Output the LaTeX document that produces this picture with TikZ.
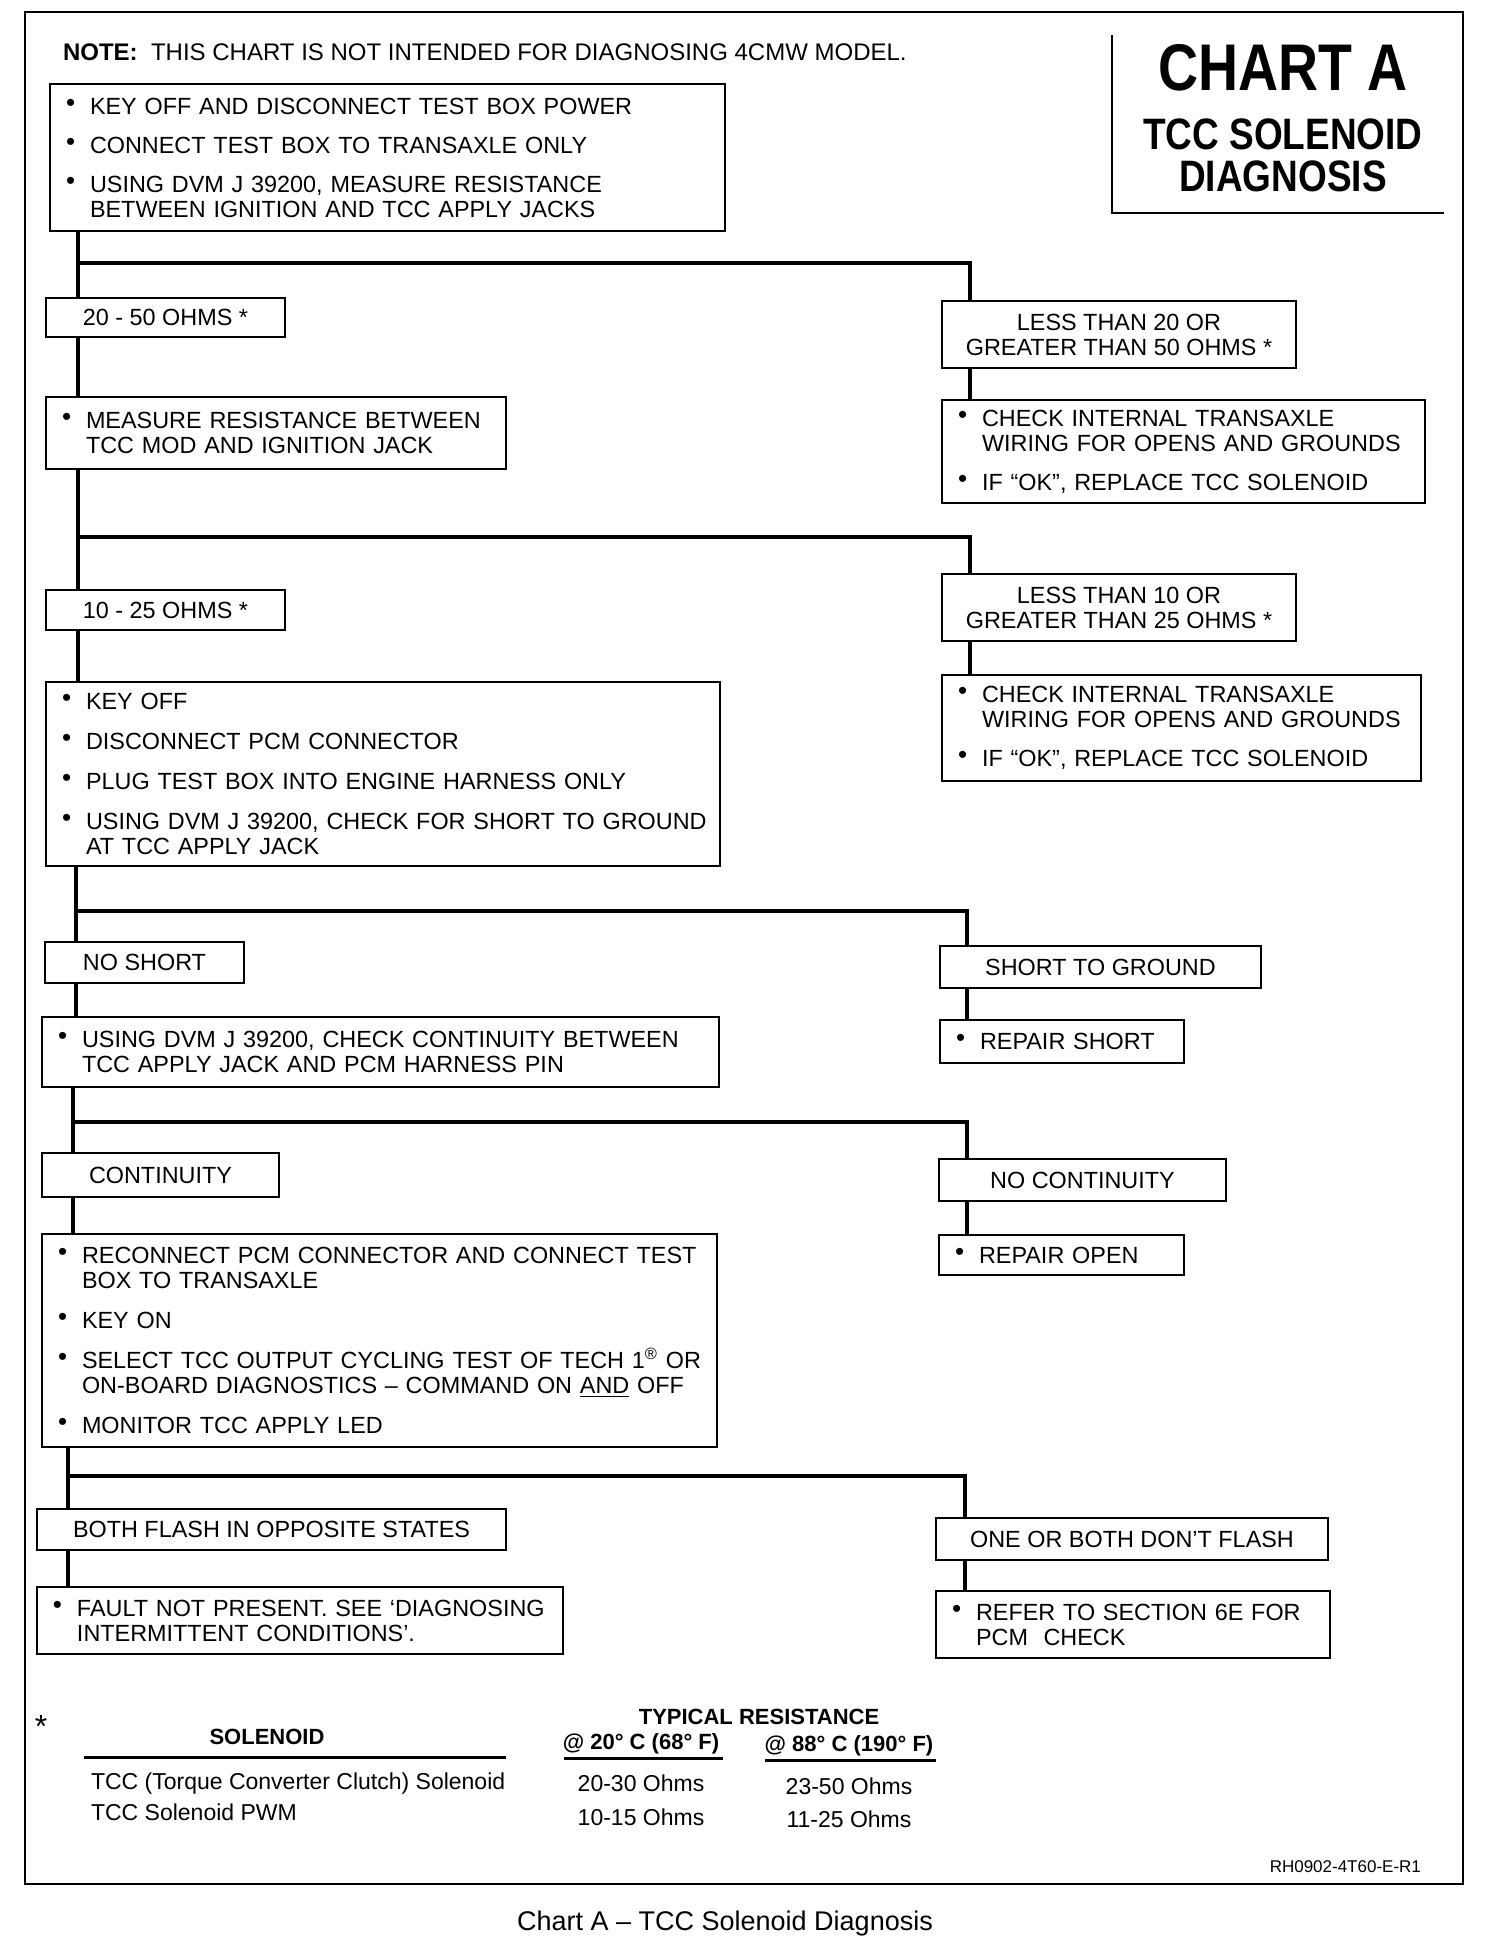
\documentclass[tikz,border=0pt]{standalone}
\usepackage{fontspec}
\setmainfont{Liberation Sans}
\newfontfamily\condfont{Liberation Sans}[FakeStretch=0.84]

% bullet lines, never broken
\newcommand\bl[1]{\mbox{\makebox[12pt][l]{\raisebox{1.5pt}{\fontsize{13}{13}\selectfont\textbullet}}#1}}
\newcommand\cl[1]{\mbox{\hspace*{12pt}#1}}

\tikzset{
  stepbox/.style={draw, line width=1.4pt, rectangle, inner xsep=8pt, inner ysep=0pt,
    font=\fontsize{11.7}{12.5}\selectfont},
  listbox/.style={stepbox, align=left},
  tagbox/.style={stepbox, align=center},
  link/.style={line width=2.2pt},
  frame/.style={line width=1.2pt},
  titletext/.style={inner sep=0pt, font=\condfont\bfseries\fontsize{22}{24}\selectfont},
  tabhead/.style={anchor=base, font=\bfseries\fontsize{11}{13}\selectfont},
  tabcell/.style={anchor=base, font=\fontsize{11.5}{13}\selectfont},
}

\begin{document}
\begin{tikzpicture}[x=0.5pt, y=-0.5pt]
  \useasboundingbox (0,0) rectangle (1504,1944);
  \draw[frame] (25,12) rectangle (1463,1884);

  % === title ===
  \node[anchor=base west, font=\fontsize{12}{14}\selectfont] (note) at (56,60)
    {\textbf{NOTE:}\ \ THIS CHART IS NOT INTENDED FOR DIAGNOSING 4CMW MODEL.};
  \draw[frame] (1112,35) -- (1112,213) -- (1444,213);
  \node[titletext, font=\condfont\bfseries\fontsize{33}{36}\selectfont] (charta) at (1283,68) {CHART A};
  \node[titletext, anchor=base] (tccsol) at (1283,149) {TCC SOLENOID};
  \node[titletext, anchor=base] (diag) at (1283,191) {DIAGNOSIS};

  % === boxes ===
  \node[listbox, text width=321.5pt, minimum height=73.5pt] (setup) at (387.5,157.5)
    {\bl{KEY OFF AND DISCONNECT TEST BOX POWER}\\[7pt]
     \bl{CONNECT TEST BOX TO TRANSAXLE ONLY}\\[7pt]
     \bl{USING DVM J 39200, MEASURE RESISTANCE}\\
     \cl{BETWEEN IGNITION AND TCC APPLY JACKS}};

  \node[tagbox, minimum width=119.5pt, minimum height=19.5pt] (ohmA) at (165.5,317.5) {20 - 50 OHMS *};
  \node[tagbox, minimum width=177pt, minimum height=33.5pt] (outA) at (1119,334.5)
    {LESS THAN 20 OR\\GREATER THAN 50 OHMS *};
  \node[listbox, text width=214pt, minimum height=36pt] (meas) at (276,433)
    {\bl{MEASURE RESISTANCE BETWEEN}\\
     \cl{TCC MOD AND IGNITION JACK}};
  \node[listbox, text width=225.5pt, minimum height=51.5pt] (chkA) at (1183.5,451.5)
    {\bl{CHECK INTERNAL TRANSAXLE}\\
     \cl{WIRING FOR OPENS AND GROUNDS}\\[7pt]
     \bl{IF “OK”, REPLACE TCC SOLENOID}};

  \node[tagbox, minimum width=119.5pt, minimum height=20pt] (ohmB) at (165.5,610) {10 - 25 OHMS *};
  \node[tagbox, minimum width=177pt, minimum height=33.5pt] (outB) at (1119,607.5)
    {LESS THAN 10 OR\\GREATER THAN 25 OHMS *};
  \node[listbox, text width=223.5pt, minimum height=53pt] (chkB) at (1181.5,728)
    {\bl{CHECK INTERNAL TRANSAXLE}\\
     \cl{WIRING FOR OPENS AND GROUNDS}\\[7pt]
     \bl{IF “OK”, REPLACE TCC SOLENOID}};
  \node[listbox, text width=321pt, minimum height=92pt] (keyoff) at (383,774)
    {\bl{KEY OFF}\\[7.5pt]
     \bl{DISCONNECT PCM CONNECTOR}\\[7.5pt]
     \bl{PLUG TEST BOX INTO ENGINE HARNESS ONLY}\\[7.5pt]
     \bl{USING DVM J 39200, CHECK FOR SHORT TO GROUND}\\
     \cl{AT TCC APPLY JACK}};

  \node[tagbox, minimum width=99.5pt, minimum height=20.5pt] (noshort) at (144.5,962.5) {NO SHORT};
  \node[tagbox, minimum width=160.5pt, minimum height=21pt] (shortgnd) at (1100.5,967) {SHORT TO GROUND};
  \node[listbox, text width=106pt, minimum height=21.5pt] (repshort) at (1062,1041.5)
    {\bl{REPAIR SHORT}};
  \node[listbox, text width=322.5pt, minimum height=35pt] (contchk) at (380.5,1052)
    {\bl{USING DVM J 39200, CHECK CONTINUITY BETWEEN}\\
     \cl{TCC APPLY JACK AND PCM HARNESS PIN}};

  \node[tagbox, minimum width=118.5pt, minimum height=22pt] (contin) at (160.5,1175) {CONTINUITY};
  \node[tagbox, minimum width=143.5pt, minimum height=21pt] (nocont) at (1082.5,1180) {NO CONTINUITY};
  \node[listbox, text width=106.5pt, minimum height=20pt] (repopen) at (1061.5,1255)
    {\bl{REPAIR OPEN}};
  \node[listbox, text width=321.5pt, minimum height=106.5pt] (recon) at (379.5,1340.5)
    {\bl{RECONNECT PCM CONNECTOR AND CONNECT TEST}\\
     \cl{BOX TO TRANSAXLE}\\[7.5pt]
     \bl{KEY ON}\\[7.5pt]
     \bl{SELECT TCC OUTPUT CYCLING TEST OF TECH 1\textsuperscript{\textregistered} OR}\\
     \cl{ON-BOARD DIAGNOSTICS -- COMMAND ON \underline{AND} OFF}\\[7.5pt]
     \bl{MONITOR TCC APPLY LED}};

  \node[tagbox, minimum width=234.5pt, minimum height=20.5pt] (both) at (271.5,1529.5) {BOTH FLASH IN OPPOSITE STATES};
  \node[tagbox, minimum width=196pt, minimum height=21pt] (noflash) at (1132,1539) {ONE OR BOTH DON’T FLASH};
  \node[listbox, text width=247pt, minimum height=33.5pt] (fault) at (300,1620.5)
    {\bl{FAULT NOT PRESENT. SEE ‘DIAGNOSING}\\
     \cl{INTERMITTENT CONDITIONS’.}};
  \node[listbox, text width=181pt, minimum height=33.5pt] (refer) at (1133,1624.5)
    {\bl{REFER TO SECTION 6E FOR}\\
     \cl{PCM\ \ CHECK}};

  % === connectors ===
  \coordinate (t1) at (78,263);  \coordinate (r1) at (970,263);
  \draw[link] (setup.south -| t1) -- (t1) -- (ohmA.north -| t1);
  \draw[link] (t1) -- (r1) -- (outA.north -| r1);
  \draw[link] (ohmA.south -| t1) -- (meas.north -| t1);
  \draw[link] (outA.south -| r1) -- (chkA.north -| r1);

  \coordinate (t2) at (78,537);  \coordinate (r2) at (970,537);
  \draw[link] (meas.south -| t2) -- (t2) -- (ohmB.north -| t2);
  \draw[link] (t2) -- (r2) -- (outB.north -| r2);
  \draw[link] (ohmB.south -| t2) -- (keyoff.north -| t2);
  \draw[link] (outB.south -| r2) -- (chkB.north -| r2);

  \coordinate (t3) at (76,911);  \coordinate (r3) at (967,911);
  \draw[link] (keyoff.south -| t3) -- (t3) -- (noshort.north -| t3);
  \draw[link] (t3) -- (r3) -- (shortgnd.north -| r3);
  \draw[link] (noshort.south -| t3) -- (contchk.north -| t3);
  \draw[link] (shortgnd.south -| r3) -- (repshort.north -| r3);

  \coordinate (t4) at (73,1122); \coordinate (r4) at (967,1122);
  \draw[link] (contchk.south -| t4) -- (t4) -- (contin.north -| t4);
  \draw[link] (t4) -- (r4) -- (nocont.north -| r4);
  \draw[link] (contin.south -| t4) -- (recon.north -| t4);
  \draw[link] (nocont.south -| r4) -- (repopen.north -| r4);

  \coordinate (t5) at (68,1476); \coordinate (r5) at (965,1476);
  \draw[link] (recon.south -| t5) -- (t5) -- (both.north -| t5);
  \draw[link] (t5) -- (r5) -- (noflash.north -| r5);
  \draw[link] (both.south -| t5) -- (fault.north -| t5);
  \draw[link] (noflash.south -| r5) -- (refer.north -| r5);

  % === resistance table ===
  \node[font=\fontsize{16}{18}\selectfont] (star) at (41,1726) {*};
  \node[tabhead] (hsol) at (267,1744) {SOLENOID};
  \node[tabhead] (hres) at (759,1724) {TYPICAL RESISTANCE};
  \node[tabhead] (hcold) at (641,1749) {@ 20° C (68° F)};
  \node[tabhead] (hhot) at (849,1751) {@ 88° C (190° F)};
  \draw[line width=1.5pt] (84,1757) -- (506,1757);
  \draw[line width=1.5pt] (564,1758) -- (723,1758);
  \draw[line width=1.5pt] (765,1760) -- (936,1760);
  \node[tabcell, anchor=base west] (rowA) at (84,1789) {TCC (Torque Converter Clutch) Solenoid};
  \node[tabcell] (rowAc) at (641,1791) {20-30 Ohms};
  \node[tabcell] (rowAh) at (849,1794) {23-50 Ohms};
  \node[tabcell, anchor=base west] (rowB) at (84,1820) {TCC Solenoid PWM};
  \node[tabcell] (rowBc) at (641,1825) {10-15 Ohms};
  \node[tabcell] (rowBh) at (849,1827) {11-25 Ohms};
  \node[anchor=base east, font=\fontsize{8.5}{10}\selectfont] (code) at (1428,1872) {RH0902-4T60-E-R1};

  \node[anchor=base, font=\fontsize{13.5}{15}\selectfont] (caption) at (725,1930)
    {Chart A -- TCC Solenoid Diagnosis};
\end{tikzpicture}
\end{document}
